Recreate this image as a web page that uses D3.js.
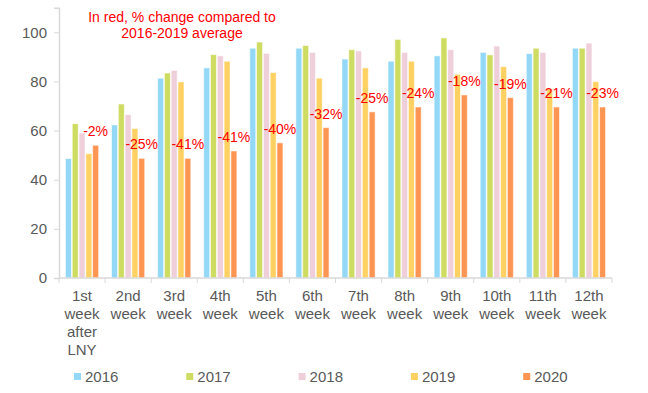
<!DOCTYPE html>
<html>
<head>
<meta charset="utf-8">
<title>Weeks after LNY</title>
<script src="https://d3js.org/d3.v7.min.js"></script>
<style>
	body { margin: 0; background: #fff; font-family: 'Liberation Sans', Arial, sans-serif; }
	.axis-text { fill: #595959; font-size: 15px; }
	.note { fill: #ff0000; font-size: 14px; }
</style>
</head>
<body>
<div id="chart"></div>
<script>
// categories and series
var weeks = [["1st", "week", "after", "LNY"], ["2nd", "week"], ["3rd", "week"], ["4th", "week"],
	["5th", "week"], ["6th", "week"], ["7th", "week"], ["8th", "week"], ["9th", "week"],
	["10th", "week"], ["11th", "week"], ["12th", "week"]];
var years = ["2016", "2017", "2018", "2019", "2020"];
var colors = ["#93d8f6", "#cfdc62", "#efcfd9", "#ffd163", "#ff9552"];

var v2016 = [48.6, 62.3, 81.3, 85.5, 93.5, 93.5, 89.1, 88.2, 90.4, 91.8, 91.3, 93.5];
var v2017 = [62.8, 70.8, 83.4, 90.9, 96.0, 94.6, 92.9, 97.1, 97.7, 90.8, 93.5, 93.5];
var v2018 = [59.0, 66.5, 84.5, 90.4, 91.4, 91.8, 92.4, 91.8, 92.9, 94.4, 91.8, 95.6];
var v2019 = [50.6, 60.8, 79.8, 88.2, 83.6, 81.3, 85.5, 88.2, 82.9, 86.0, 77.0, 79.9];
var v2020 = [54.0, 48.7, 48.7, 51.7, 55.0, 61.2, 67.6, 69.6, 74.5, 73.4, 69.6, 69.6];
var changes = ["-2%", "-25%", "-41%", "-41%", "-40%", "-32%", "-25%", "-24%", "-18%", "-19%", "-21%", "-23%"];
var yTicks = [0, 20, 40, 60, 80, 100];

var series = [v2016, v2017, v2018, v2019, v2020];

var width = 648, height = 393;
var svg = d3.select("#chart").append("svg")
	.attr("width", width)
	.attr("height", height);

var x = d3.scaleBand()
	.domain(d3.range(weeks.length))
	.range([59, 612])
	.paddingInner(0.28)
	.paddingOuter(0.14);

var xIn = d3.scaleBand()
	.domain(years)
	.range([0, x.bandwidth()])
	.paddingInner(0.12);

var y = d3.scaleLinear()
	.domain([0, 110])
	.range([278, 7.7]);

// y axis
var yAxis = svg.append("g")
	.attr("transform", "translate(59,0)")
	.call(d3.axisLeft(y).tickValues(yTicks).tickSize(5).tickPadding(7));
yAxis.select(".domain").attr("stroke", "#d9d9d9").attr("stroke-width", 1.5);
yAxis.selectAll(".tick line").attr("stroke", "#d9d9d9");
yAxis.selectAll(".tick text").attr("class", "axis-text").attr("font-family", null).attr("font-size", null);

// bars
years.forEach(function(yr, i) {
	svg.append("g").selectAll("rect")
		.data(series[i]).enter()
		.append("rect")
		.attr("x", function(d, k) { return x(k) + xIn(yr); })
		.attr("y", function(d) { return y(d); })
		.attr("width", xIn.bandwidth())
		.attr("height", function(d) { return y(0) - y(d); })
		.attr("fill", colors[i])
		.attr("stroke", "#fff")
		.attr("stroke-opacity", 0.55)
		.attr("stroke-width", 1);
});

// x axis line + ticks between categories
svg.append("line")
	.attr("x1", 59).attr("x2", 612)
	.attr("y1", y(0)).attr("y2", y(0))
	.attr("stroke", "#d9d9d9").attr("stroke-width", 1.5);
svg.append("g").selectAll("line")
	.data(d3.range(weeks.length + 1)).enter()
	.append("line")
	.attr("x1", function(d) { return 59 + d * x.step(); })
	.attr("x2", function(d) { return 59 + d * x.step(); })
	.attr("y1", y(0)).attr("y2", y(0) + 5)
	.attr("stroke", "#d9d9d9");

// category labels
var cat = svg.append("g").selectAll("text")
	.data(weeks).enter()
	.append("text")
	.attr("class", "axis-text")
	.attr("text-anchor", "middle")
	.attr("x", function(d, k) { return x(k) + x.bandwidth() / 2; })
	.attr("y", 301);
cat.selectAll("tspan")
	.data(function(d) { return d; }).enter()
	.append("tspan")
	.attr("x", function() { return d3.select(this.parentNode).attr("x"); })
	.attr("dy", function(d, i) { return i === 0 ? 0 : 18; })
	.text(function(d) { return d; });

// red % change labels over the 2020 bar
svg.append("g").selectAll("text")
	.data(changes).enter()
	.append("text")
	.attr("class", "note")
	.attr("text-anchor", "middle")
	.attr("x", function(d, k) { return x(k) + xIn("2020") + xIn.bandwidth() / 2; })
	.attr("y", function(d, k) { return y(v2020[k]) - 14 + 5; })
	.text(function(d) { return d; });

// note
svg.append("text").attr("class", "note").attr("text-anchor", "middle")
	.attr("x", 182).attr("y", 22).text("In red, % change compared to");
svg.append("text").attr("class", "note").attr("text-anchor", "middle")
	.attr("x", 182).attr("y", 38).text("2016-2019 average");

// legend
var leg = svg.append("g").selectAll("g")
	.data(years).enter()
	.append("g")
	.attr("transform", function(d, i) { return "translate(" + (74 + i * 112.3) + ",377)"; });
leg.append("rect")
	.attr("x", 0).attr("y", -4)
	.attr("width", 7).attr("height", 7)
	.attr("fill", function(d, i) { return colors[i]; });
leg.append("text")
	.attr("class", "axis-text")
	.attr("x", 11).attr("y", 5)
	.text(function(d) { return d; });
</script>
</body>
</html>
